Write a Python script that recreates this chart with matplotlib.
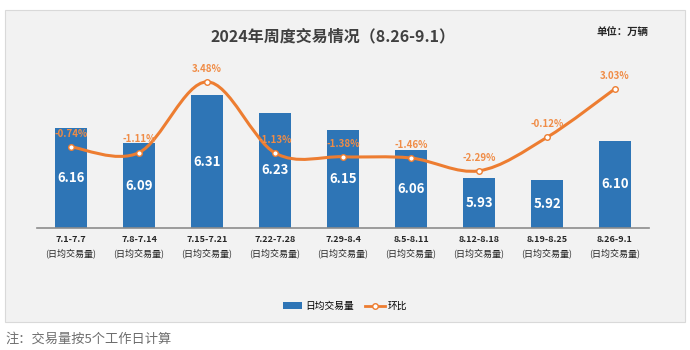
import numpy as np
import matplotlib
matplotlib.use("Agg")
import matplotlib.pyplot as plt
from matplotlib.patches import Rectangle, PathPatch
from matplotlib.path import Path
from matplotlib.lines import Line2D

plt.rcParams['font.family'] = ['Noto Sans CJK SC', 'DejaVu Sans']

# 数据
weeks = ['7.1-7.7', '7.8-7.14', '7.15-7.21', '7.22-7.28', '7.29-8.4',
         '8.5-8.11', '8.12-8.18', '8.19-8.25', '8.26-9.1']
volume = [6.16, 6.09, 6.31, 6.23, 6.15, 6.06, 5.93, 5.92, 6.10]
mom = [-0.74, -1.11, 3.48, -1.13, -1.38, -1.46, -2.29, -0.12, 3.03]

BLUE = '#2e75b6'
ORANGE = '#ed7d31'
W, H = 690, 350

fig = plt.figure(figsize=(6.9, 3.5), dpi=100)
fig.patch.set_facecolor('white')

# 灰色底板
fig.patches.append(Rectangle((5 / W, 1 - 322 / H), 680 / W, 312 / H,
                             transform=fig.transFigure, facecolor='#f2f2f2',
                             edgecolor='#d9d9d9', linewidth=0.8, zorder=-5))

ax = fig.add_axes([37 / W, 1 - 228 / H, 612 / W, 185 / H])
ax.patch.set_alpha(0)
x = np.arange(len(weeks))
ax.bar(x, volume, width=0.46, color=BLUE, zorder=2)
ax.set_xlim(-0.5, len(weeks) - 0.5)
ax.set_ylim(5.7, 6.55)
for s in ['top', 'right', 'left']:
    ax.spines[s].set_visible(False)
ax.spines['bottom'].set_color('#8c8c8c')
ax.spines['bottom'].set_linewidth(1.2)
ax.set_yticks([])
ax.set_xticks(x)
ax.set_xticklabels([])
ax.tick_params(axis='x', length=0)

for xi, v in zip(x, volume):
    ax.text(xi, (5.7 + v) / 2, f'{v:.2f}', ha='center', va='center',
            color='white', fontsize=9.5, fontweight='bold', zorder=3)
    ax.annotate(weeks[xi], (xi, 5.7), xytext=(0, -8.5), textcoords='offset points',
                ha='center', va='center', fontsize=6.5, fontweight='bold', color='#262626')
    ax.annotate('(日均交易量)', (xi, 5.7), xytext=(0, -18.5), textcoords='offset points',
                ha='center', va='center', fontsize=6.5, color='#262626')

# 环比（平滑曲线）
ax2 = ax.twinx()
ax2.set_ylim(-6, 6)
ax2.axis('off')
pts = list(zip(x.astype(float), mom))
verts = [pts[0]]
codes = [Path.MOVETO]
n = len(pts)
for i in range(n - 1):
    p0 = np.array(pts[max(i - 1, 0)])
    p1 = np.array(pts[i])
    p2 = np.array(pts[i + 1])
    p3 = np.array(pts[min(i + 2, n - 1)])
    c1 = p1 + (p2 - p0) / 6
    c2 = p2 - (p3 - p1) / 6
    verts += [tuple(c1), tuple(c2), tuple(p2)]
    codes += [Path.CURVE4] * 3
ax2.add_patch(PathPatch(Path(verts, codes), facecolor='none', edgecolor=ORANGE,
                        linewidth=2.2, zorder=4))
ax2.plot(x, mom, linestyle='none', marker='o', markersize=4,
         markerfacecolor='white', markeredgecolor=ORANGE, markeredgewidth=1, zorder=5)
for xi, m in zip(x, mom):
    ax2.annotate(f'{m:.2f}%', (xi, m), xytext=(0, 9.5), textcoords='offset points',
                 ha='center', va='center', fontsize=7, fontweight='bold',
                 color='#f08c46', zorder=6)

fig.text(333 / W, 1 - 36 / H, '2024年周度交易情况（8.26-9.1）', ha='center', va='center',
         fontsize=11.5, fontweight='bold', color='#404040')
fig.text(622 / W, 1 - 33 / H, '单位：万辆', ha='center', va='center',
         fontsize=7.5, fontweight='bold', color='#262626')

handles = [Rectangle((0, 0), 1, 1, facecolor=BLUE),
           Line2D([], [], color=ORANGE, linewidth=2, marker='o', markersize=4,
                  markerfacecolor='white', markeredgecolor=ORANGE)]
fig.legend(handles, ['日均交易量', '环比'], loc='center', bbox_to_anchor=(345 / W, 1 - 306 / H),
           ncol=2, frameon=False, fontsize=7, handlelength=2, handletextpad=0.3,
           columnspacing=1.2)

fig.text(5 / W, 1 - 339 / H, '注：交易量按5个工作日计算', ha='left', va='center',
         fontsize=9.5, color='#6e6e6e')

fig.savefig('out.png', dpi=100)
